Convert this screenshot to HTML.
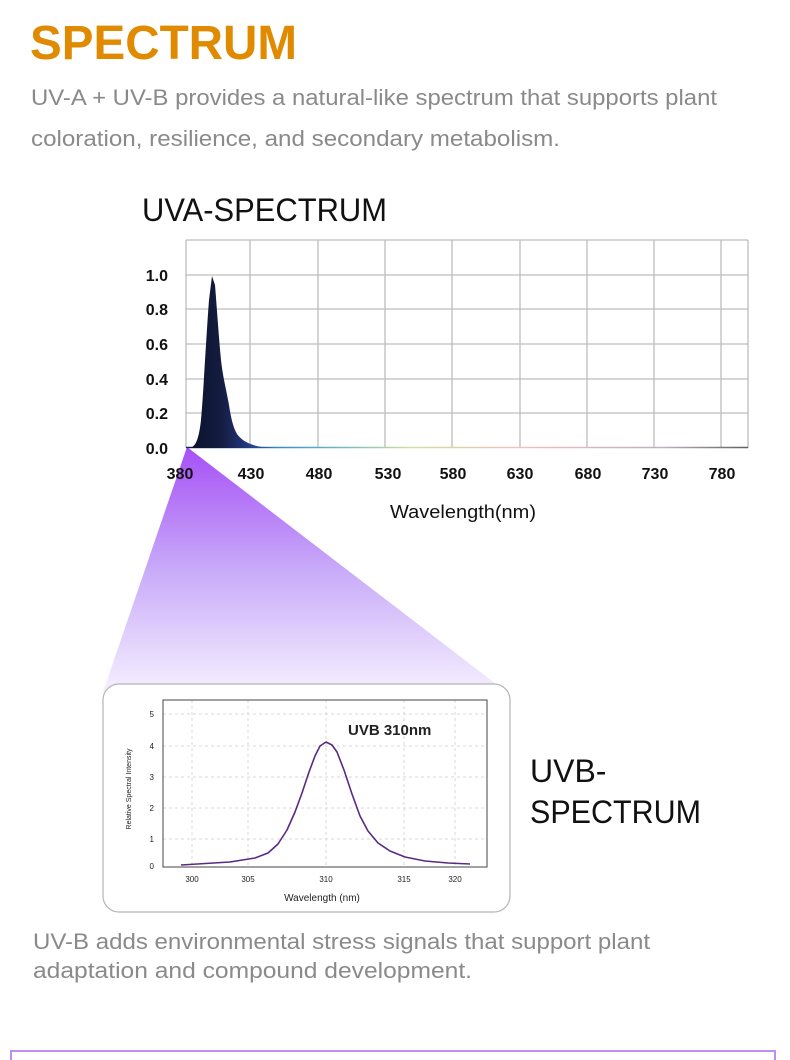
<!DOCTYPE html>
<html><head><meta charset="utf-8"><style>
html,body{margin:0;padding:0;background:#fff;width:790px;height:1060px;overflow:hidden}
svg{display:block}
text{font-family:"Liberation Sans",sans-serif}
</style></head><body>
<svg width="790" height="1060" viewBox="0 0 790 1060" xmlns="http://www.w3.org/2000/svg">
<defs>
<linearGradient id="tri" x1="0" y1="448" x2="0" y2="690" gradientUnits="userSpaceOnUse">
<stop offset="0" stop-color="#a650f6"/>
<stop offset="0.5" stop-color="#c8aaf8"/>
<stop offset="1" stop-color="#f4eeff"/>
</linearGradient>
<linearGradient id="spec" x1="196" y1="0" x2="260" y2="0" gradientUnits="userSpaceOnUse">
<stop offset="0" stop-color="#0c1430"/>
<stop offset="0.4" stop-color="#141c40"/>
<stop offset="0.7" stop-color="#1e3070"/>
<stop offset="1" stop-color="#2a50a0"/>
</linearGradient>
<linearGradient id="base" x1="186" y1="0" x2="748" y2="0" gradientUnits="userSpaceOnUse">
<stop offset="0" stop-color="#203070"/>
<stop offset="0.2" stop-color="#40a0d0"/>
<stop offset="0.4" stop-color="#d0e0a0"/>
<stop offset="0.6" stop-color="#f0c0c0"/>
<stop offset="0.85" stop-color="#c0b0c0"/>
<stop offset="1" stop-color="#606060"/>
</linearGradient>
</defs>

<text x="30" y="59" font-size="48" font-weight="bold" fill="#e08a00" textLength="267" lengthAdjust="spacingAndGlyphs">SPECTRUM</text>
<text x="31" y="105" font-size="22" fill="#8a8a8a" textLength="686" lengthAdjust="spacingAndGlyphs">UV-A + UV-B provides a natural-like spectrum that supports plant</text>
<text x="31" y="146" font-size="22" fill="#8a8a8a" textLength="529" lengthAdjust="spacingAndGlyphs">coloration, resilience, and secondary metabolism.</text>

<text x="142" y="221" font-size="32" fill="#111" textLength="245" lengthAdjust="spacingAndGlyphs">UVA-SPECTRUM</text>

<polygon points="187,447 496,684 103,692" fill="url(#tri)"/>

<g stroke="#bdbdbd" stroke-width="1.3" fill="none">
<line x1="186" y1="240" x2="748" y2="240"/>
<line x1="186" y1="275" x2="748" y2="275"/>
<line x1="186" y1="309" x2="748" y2="309"/>
<line x1="186" y1="344" x2="748" y2="344"/>
<line x1="186" y1="379" x2="748" y2="379"/>
<line x1="186" y1="413" x2="748" y2="413"/>
<line x1="186" y1="240" x2="186" y2="448"/>
<line x1="250" y1="240" x2="250" y2="448"/>
<line x1="318" y1="240" x2="318" y2="448"/>
<line x1="385" y1="240" x2="385" y2="448"/>
<line x1="452" y1="240" x2="452" y2="448"/>
<line x1="520" y1="240" x2="520" y2="448"/>
<line x1="587" y1="240" x2="587" y2="448"/>
<line x1="654" y1="240" x2="654" y2="448"/>
<line x1="721" y1="240" x2="721" y2="448"/>
<line x1="748" y1="240" x2="748" y2="448"/>
</g>
<line x1="186" y1="447.5" x2="748" y2="447.5" stroke="url(#base)" stroke-width="1.6"/>
<path d="M186,448 L192,447 C196,445 199,438 201,420 C203,400 206,340 209,300 L212,276 L215,285 C217,310 219,340 221,360 C223,378 226,388 229,405 C231,418 233,427 237,434 C242,441 250,445 262,447 L275,448 Z" fill="url(#spec)"/>

<g font-size="16" font-weight="bold" fill="#111" text-anchor="end">
<text x="168" y="281">1.0</text>
<text x="168" y="315">0.8</text>
<text x="168" y="350">0.6</text>
<text x="168" y="385">0.4</text>
<text x="168" y="419">0.2</text>
<text x="168" y="454">0.0</text>
</g>
<g font-size="16" font-weight="bold" fill="#111" text-anchor="middle">
<text x="180" y="479">380</text>
<text x="251" y="479">430</text>
<text x="319" y="479">480</text>
<text x="388" y="479">530</text>
<text x="453" y="479">580</text>
<text x="520" y="479">630</text>
<text x="588" y="479">680</text>
<text x="655" y="479">730</text>
<text x="722" y="479">780</text>
</g>
<text x="390" y="518" font-size="18" fill="#111" textLength="146" lengthAdjust="spacingAndGlyphs">Wavelength(nm)</text>

<rect x="103" y="684" width="407" height="228" rx="16" fill="#fff" stroke="#b5b5b5" stroke-width="1.2"/>
<g stroke="#d8d8d8" stroke-width="1" stroke-dasharray="3,3">
<line x1="163" y1="714" x2="487" y2="714"/>
<line x1="163" y1="746" x2="487" y2="746"/>
<line x1="163" y1="777" x2="487" y2="777"/>
<line x1="163" y1="808" x2="487" y2="808"/>
<line x1="163" y1="839" x2="487" y2="839"/>
<line x1="192" y1="700" x2="192" y2="866"/>
<line x1="248" y1="700" x2="248" y2="866"/>
<line x1="326" y1="700" x2="326" y2="866"/>
<line x1="404" y1="700" x2="404" y2="866"/>
<line x1="455" y1="700" x2="455" y2="866"/>
</g>
<rect x="163" y="700" width="324" height="167" fill="none" stroke="#444" stroke-width="1"/>
<polyline points="181,865 230,862 255,858 268,853 278,844 287,830 295,812 302,793 309,772 315,756 320,746 326,742 332,745 337,752 344,770 352,794 360,816 368,831 378,843 390,851 405,857 425,861 448,863 470,864" fill="none" stroke="#5a2a80" stroke-width="1.6" stroke-linejoin="round"/>
<text x="348" y="735" font-size="15" font-weight="bold" fill="#222">UVB 310nm</text>
<g font-size="8" fill="#222" text-anchor="end">
<text x="154" y="717">5</text>
<text x="154" y="749">4</text>
<text x="154" y="780">3</text>
<text x="154" y="811">2</text>
<text x="154" y="842">1</text>
<text x="154" y="869">0</text>
</g>
<g font-size="8" fill="#222" text-anchor="middle">
<text x="192" y="882">300</text>
<text x="248" y="882">305</text>
<text x="326" y="882">310</text>
<text x="404" y="882">315</text>
<text x="455" y="882">320</text>
</g>
<text x="322" y="901" font-size="10" fill="#222" text-anchor="middle">Wavelength (nm)</text>
<text transform="translate(131,789) rotate(-90)" font-size="7" fill="#222" text-anchor="middle">Relative Spectral Intensity</text>

<text x="530" y="782" font-size="32" fill="#111">UVB-</text>
<text x="530" y="823" font-size="32" fill="#111" textLength="171" lengthAdjust="spacingAndGlyphs">SPECTRUM</text>

<text x="33" y="949" font-size="22" fill="#8a8a8a" textLength="617" lengthAdjust="spacingAndGlyphs">UV-B adds environmental stress signals that support plant</text>
<text x="33" y="978" font-size="22" fill="#8a8a8a" textLength="439" lengthAdjust="spacingAndGlyphs">adaptation and compound development.</text>

<rect x="11" y="1051" width="764" height="20" fill="#fff" stroke="#c08ef0" stroke-width="2"/>
</svg>
</body></html>
